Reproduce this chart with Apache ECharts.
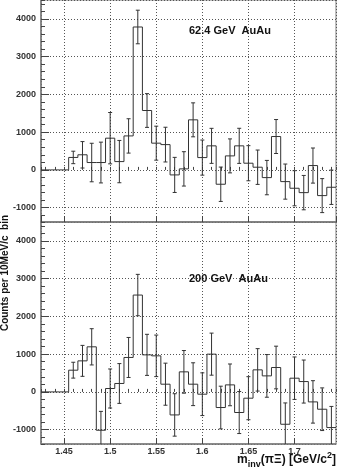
<!DOCTYPE html>
<html>
<head>
<meta charset="utf-8">
<script src="https://cdn.jsdelivr.net/npm/echarts@6/dist/echarts.min.js"></script>
<style>
html, body { margin: 0; padding: 0; background: #fff; }
#chart { width: 337px; height: 469px; }
</style>
</head>
<body>
<div id="chart"></div>
<script>
// bin centres (10 MeV bins)
var centers = [1.43, 1.44, 1.45, 1.46, 1.47, 1.48, 1.49, 1.50, 1.51, 1.52, 1.53, 1.54, 1.55, 1.56, 1.57, 1.58,
               1.59, 1.60, 1.61, 1.62, 1.63, 1.64, 1.65, 1.66, 1.67, 1.68, 1.69, 1.70, 1.71, 1.72, 1.73, 1.74];

// 62.4 GeV AuAu
var counts62 = [0, 0, 0, 330, 400, 195, 195, 840, 220, 900, 3785, 1573, 708, 670, -133, 27,
                1326, 326, 637, -380, 371, 637, 177, 71, -204, 884, -310, -486, -602, 115, -681, -460];
var errors62 = [0, 0, 0, 165, 350, 510, 540, 680, 560, 455, 445, 447, 450, 460, 465, 455,
                450, 465, 464, 455, 450, 465, 465, 455, 455, 450, 465, 465, 455, 465, 450, 455];

// 200 GeV AuAu
var counts200 = [0, 0, 0, 575, 822, 1194, -1016, 90, 223, 912, 2565, 981, 955, 204, -610, 531,
                 204, -61, 1000, -414, 186, -546, -167, 584, 424, 646, -857, 363, 274, -265, -459, -945];
var errors200 = [0, 0, 0, 210, 410, 480, 500, 517, 527, 530, 548, 544, 550, 557, 562, 565,
                 567, 566, 557, 565, 553, 557, 570, 562, 565, 565, 565, 562, 570, 562, 565, 560];

var panelLabels = ['62.4 GeV  AuAu', '200 GeV  AuAu'];

var binWidth = 0.01;
var xMin = 1.425, xMax = 1.745;
var yMin = -1380, yMax = 4500;

var lineColor = '#333';
var axisColor = '#7a7a7a';
var font = 'Liberation Sans, Arial, sans-serif';

function histData(vals, errs) {
    return centers.map(function (c, i) {
        return [c, vals[i], errs[i], i > 0 ? vals[i - 1] : vals[i]];
    });
}

// step histogram + error bars
function renderHist(params, api) {
    var c = api.value(0), v = api.value(1), e = api.value(2), prev = api.value(3);
    var l = api.coord([c - binWidth / 2, v]);
    var r = api.coord([c + binWidth / 2, v]);
    var p = api.coord([c - binWidth / 2, prev]);
    var st = { stroke: lineColor, lineWidth: 1 };
    var kids = [
        { type: 'line', shape: { x1: l[0], y1: l[1], x2: r[0], y2: r[1] }, style: st },
        { type: 'line', shape: { x1: p[0], y1: p[1], x2: l[0], y2: l[1] }, style: st }
    ];
    if (e > 0) {
        var t = api.coord([c, v + e]), b = api.coord([c, v - e]);
        kids.push({ type: 'line', shape: { x1: t[0], y1: t[1], x2: b[0], y2: b[1] }, style: st });
        kids.push({ type: 'line', shape: { x1: t[0] - 2, y1: t[1], x2: t[0] + 2, y2: t[1] }, style: st });
        kids.push({ type: 'line', shape: { x1: b[0] - 2, y1: b[1], x2: b[0] + 2, y2: b[1] }, style: st });
    }
    return { type: 'group', children: kids };
}

var grids = [
    { left: 41, right: 1, top: 0, height: 222, show: true, borderColor: axisColor, borderWidth: 1 },
    { left: 41, right: 1, top: 222, height: 222, show: true, borderColor: axisColor, borderWidth: 1 }
];

var tickFont = { fontFamily: font, fontSize: 9, fontWeight: 'bold', color: '#333' };
var dotted = { show: true, lineStyle: { color: '#555', width: 1, type: [1, 2] } };

var xAxes = [], yAxes = [];
[0, 1].forEach(function (g) {
    // major x axis
    xAxes.push({
        type: 'value', gridIndex: g, position: 'bottom', min: xMin, max: xMax,
        minInterval: 0.05, maxInterval: 0.05,
        axisLine: { onZero: false, lineStyle: { color: axisColor, width: 1.5 } },
        axisTick: { inside: true, length: 6, lineStyle: { color: '#444' } },
        axisLabel: g === 1 ? Object.assign({ margin: 3, showMinLabel: false, showMaxLabel: false,
            formatter: function (v) { return String(+v.toFixed(3)); } }, tickFont) : { show: false },
        splitLine: dotted
    });
    // minor x ticks
    xAxes.push({
        type: 'value', gridIndex: g, position: 'bottom', min: xMin, max: xMax,
        minInterval: 0.01, maxInterval: 0.01,
        axisLine: { show: false }, axisLabel: { show: false }, splitLine: { show: false },
        axisTick: { inside: true, length: 3, lineStyle: { color: '#444' } }
    });
    // major y axis
    yAxes.push({
        type: 'value', gridIndex: g, position: 'left', min: yMin, max: yMax,
        minInterval: 1000, maxInterval: 1000,
        axisLine: { show: true, onZero: false, lineStyle: { color: axisColor, width: 1.5 } },
        axisTick: { show: true, inside: true, length: 8, lineStyle: { color: '#444' } },
        axisLabel: Object.assign({ margin: 5, showMinLabel: false, showMaxLabel: false,
            formatter: function (v) { return String(Math.round(v)); } }, tickFont),
        splitLine: dotted
    });
    // minor y ticks
    yAxes.push({
        type: 'value', gridIndex: g, position: 'left', min: yMin, max: yMax,
        minInterval: 200, maxInterval: 200,
        axisLine: { show: false }, axisLabel: { show: false }, splitLine: { show: false },
        axisTick: { show: true, inside: true, length: 4, lineStyle: { color: '#444' } }
    });
});

var myChart = echarts.init(document.getElementById('chart'), null, { renderer: 'canvas' });
var option = {
    animation: false,
    backgroundColor: '#fff',
    grid: grids,
    xAxis: xAxes,
    yAxis: yAxes,
    title: [
        { text: panelLabels[0], left: 184, top: 20,
          textStyle: { fontFamily: font, fontSize: 11, fontWeight: 'bold', color: '#111' } },
        { text: panelLabels[1], left: 184, top: 268,
          textStyle: { fontFamily: font, fontSize: 11, fontWeight: 'bold', color: '#111' } },
        { text: '{m|m}{s|inv}{m|(\u03c0\u039e) [GeV/c}{p|2}{m|]}', right: 1, top: 451, padding: 0,
          textStyle: {
              fontFamily: font, fontWeight: 'bold', color: '#111',
              rich: {
                  m: { fontFamily: font, fontSize: 12, fontWeight: 'bold', lineHeight: 18, verticalAlign: 'middle', color: '#111' },
                  s: { fontFamily: font, fontSize: 9, fontWeight: 'bold', lineHeight: 9, verticalAlign: 'bottom', color: '#111' },
                  p: { fontFamily: font, fontSize: 9, fontWeight: 'bold', lineHeight: 9, verticalAlign: 'top', color: '#111' }
              }
          } }
    ],
    graphic: [
        { type: 'text', x: 0, y: 273, rotation: Math.PI / 2,
          style: { text: 'Counts per 10MeV/c  bin', fontFamily: font,
                   fontSize: 10, fontWeight: 'bold', fill: '#111', align: 'center', verticalAlign: 'top' } }
    ],
    series: [
        { type: 'custom', xAxisIndex: 0, yAxisIndex: 0, clip: true, renderItem: renderHist,
          data: histData(counts62, errors62) },
        { type: 'custom', xAxisIndex: 2, yAxisIndex: 2, clip: true, renderItem: renderHist,
          data: histData(counts200, errors200) }
    ]
};
myChart.setOption(option);
</script>
</body>
</html>
